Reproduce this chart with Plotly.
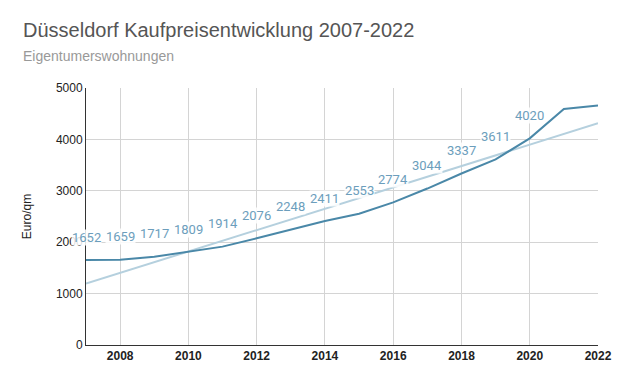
import numpy as np
import plotly.graph_objects as go

years = list(range(2007, 2023))
prices = [1652, 1659, 1717, 1809, 1914, 2076, 2248, 2411, 2553, 2774, 3044, 3337, 3611, 4020, 4590, 4660]
label_years = years[:14]
label_values = prices[:14]
x_ticks = list(range(2008, 2023, 2))
y_ticks = [0, 1000, 2000, 3000, 4000, 5000]
title_text = "Düsseldorf Kaufpreisentwicklung 2007-2022"
subtitle_text = "Eigentumerswohnungen"

coef = np.polyfit(years, prices, 1)
trend = np.polyval(coef, [2007, 2022])

AX_FONT = "Liberation Sans, Arial"

fig = go.Figure()
fig.add_trace(go.Scatter(x=[2007, 2022], y=trend, mode="lines",
                         line=dict(color="#b5d0de", width=2), hoverinfo="skip"))
fig.add_trace(go.Scatter(x=years, y=prices, mode="lines",
                         line=dict(color="#4a88a8", width=2)))

for yr, v in zip(label_years, label_values):
    fig.add_annotation(x=yr, y=v, text=str(v), showarrow=False, yshift=23,
                       font=dict(family="Roboto", size=13, color="#6c9ebc"),
                       bgcolor="rgba(255,255,255,0.85)", borderpad=0)

fig.add_annotation(xref="paper", yref="paper", x=-0.1274, y=1.2257, xanchor="left", yanchor="middle",
                   text=title_text, showarrow=False,
                   font=dict(family=AX_FONT, size=20, color="#555"))
fig.add_annotation(xref="paper", yref="paper", x=-0.1274, y=1.125, xanchor="left", yanchor="middle",
                   text=subtitle_text, showarrow=False,
                   font=dict(family=AX_FONT, size=14, color="#999"))

fig.update_layout(
    width=624, height=385,
    margin=dict(l=86, r=20, t=88, b=40),
    paper_bgcolor="white", plot_bgcolor="white",
    showlegend=False,
    font=dict(family=AX_FONT, color="#222"),
)
fig.update_xaxes(range=[2007, 2022], tickvals=x_ticks, ticktext=[f"<b>{t}</b>" for t in x_ticks],
                 showgrid=True, gridcolor="#d4d4d4", gridwidth=1,
                 showline=True, linecolor="#333", linewidth=1,
                 tickfont=dict(family=AX_FONT, size=12, color="#222"), ticks="", zeroline=False)
fig.update_yaxes(range=[0, 5000], tickvals=y_ticks,
                 showgrid=True, gridcolor="#d4d4d4", gridwidth=1,
                 showline=True, linecolor="#333", linewidth=1,
                 tickfont=dict(family=AX_FONT, size=12, color="#222"), ticks="", zeroline=False,
                 title=dict(text="Euro/qm", font=dict(family=AX_FONT, size=12, color="#222"), standoff=21))

fig.write_html("out.html", config={"displayModeBar": False},
               post_script="document.body.style.margin='0';")
